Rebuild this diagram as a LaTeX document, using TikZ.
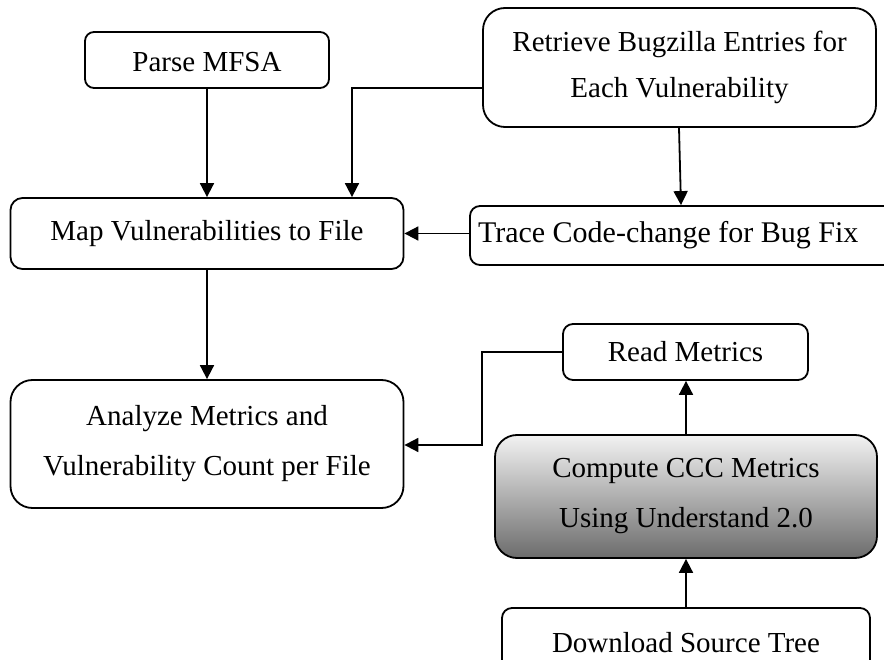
\documentclass[tikz,border=0pt]{standalone}
\usepackage{fontspec}
\setmainfont{Liberation Serif}
\usetikzlibrary{arrows.meta}

\tikzset{
  stepbox/.style={draw=black, line width=1.8pt, fill=white, inner sep=0pt,
    align=center, font=\fontsize{29}{45}\selectfont},
  flow/.style={draw=black, line width=1.8pt, -{Triangle[width=14pt,length=14pt]}},
  shadedbox/.style={stepbox, top color={rgb,255:red,242;green,242;blue,242},
    bottom color={rgb,255:red,108;green,108;blue,108}}
}

\begin{document}
\begin{tikzpicture}[x=1pt,y=-1pt]
  \useasboundingbox (0,0) rectangle (884,660);
  \clip (0,0) rectangle (884,660);

  % process steps
  \node[stepbox, rounded corners=9pt, minimum width=244pt, minimum height=56pt,
    text height=28pt, text depth=4pt]
    (parse) at (207,60) {Parse MFSA};
  \node[stepbox, rounded corners=22pt, minimum width=393pt, minimum height=119pt,
    font=\fontsize{29}{46}\selectfont]
    (retrieve) at (679.5,67.5) {Retrieve Bugzilla Entries for\\Each Vulnerability};
  \node[stepbox, rounded corners=12pt, minimum width=393pt, minimum height=71pt]
    (map) at (207,233.5) {Map Vulnerabilities to File};
  \node[stepbox, rounded corners=10pt, minimum height=59pt, align=flush left,
    inner xsep=8pt, text width=409pt, font=\fontsize{30}{45}\selectfont]
    (trace) at (682.5,235.5) {Trace Code-change for Bug Fix};
  \node[stepbox, rounded corners=22pt, minimum width=393pt, minimum height=128pt,
    font=\fontsize{29}{50}\selectfont]
    (analyze) at (207,444) {Analyze Metrics and\\Vulnerability Count per File};
  \node[stepbox, rounded corners=10pt, minimum width=245pt, minimum height=56pt]
    (read) at (685.5,352) {Read Metrics};
  \node[shadedbox, rounded corners=22pt, minimum width=382pt, minimum height=123pt,
    font=\fontsize{29}{50}\selectfont]
    (compute) at (686,496.5) {Compute CCC Metrics\\Using Understand 2.0};
  \node[stepbox, rounded corners=10pt, minimum width=368pt, minimum height=70pt]
    (download) at (686,643) {Download Source Tree};

  % connectors
  \draw[flow] (parse.south) -- (parse.south |- map.north);
  \draw[flow] ([yshift=-20.5pt]retrieve.west) -| ([xshift=145pt]map.north);
  \draw[flow] ([xshift=-0.5pt]retrieve.south) -- ([xshift=-1.5pt]trace.north);
  \draw[flow] (trace.west |- map.east) -- (map.east);
  \draw[flow] (map.south) -- (map.south |- analyze.north);
  \draw[flow] (read.west) -- ++(-80,0) |- ([yshift=-1pt]analyze.east);
  \draw[flow] (compute.north) -- (compute.north |- read.south);
  \draw[flow] (download.north) -- (download.north |- compute.south);
\end{tikzpicture}
\end{document}
